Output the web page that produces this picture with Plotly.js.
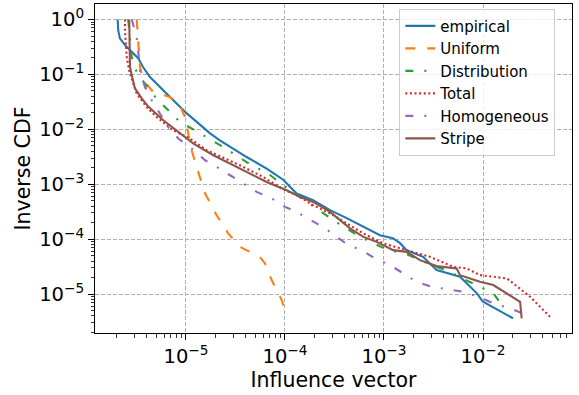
<!DOCTYPE html>
<html>
<head>
<meta charset="utf-8">
<script src="https://cdn.plot.ly/plotly-3.0.1.min.js"></script>
<style>
  html, body { margin: 0; padding: 0; background: #fff; }
  #chart { width: 579px; height: 395px; }
</style>
</head>
<body>
<div id="chart"></div>
<script>
// Inverse CDF of the influence vector: empirical curve and five models.
const empiricalX = [2.04e-6, 2.07e-6, 2.15e-6, 2.42e-6, 2.83e-6, 3.30e-6, 3.68e-6, 4.33e-6, 6.89e-6, 1.02e-5, 1.75e-5, 2.20e-5, 4.10e-5, 6.53e-5, 9.6e-5, 1.31e-4, 1.92e-4, 2.85e-4, 4.2e-4, 6.14e-4, 9.1e-4, 1.23e-3, 1.45e-3, 1.69e-3, 2.48e-3, 3.40e-3, 4.30e-3, 5.86e-3, 6.84e-3, 8.63e-3, 1.0e-2, 2.01e-2];
const empiricalY = [1.0, 0.631, 0.452, 0.341, 0.259, 0.195, 0.136, 0.0893, 0.0386, 0.0195, 8.45e-3, 6.31e-3, 3.13e-3, 1.93e-3, 1.21e-3, 6.78e-4, 5.12e-4, 3.37e-4, 2.41e-4, 1.67e-4, 1.18e-4, 1.04e-4, 8.45e-5, 6.31e-5, 4.76e-5, 2.73e-5, 2.41e-5, 2.07e-5, 1.58e-5, 1.04e-5, 7.24e-6, 3.63e-6];

const uniformX = [3.18e-6, 3.30e-6, 3.43e-6, 3.71e-6, 4.68e-6, 6.89e-6, 8.36e-6, 9.77e-6, 1.05e-5, 1.14e-5, 1.28e-5, 1.56e-5, 2.04e-5, 2.67e-5, 3.51e-5, 4.10e-5, 5.58e-5, 6.28e-5, 7.34e-5, 9.27e-5, 1.04e-4];
const uniformY = [1.0, 0.415, 0.136, 0.0778, 0.0476, 0.0386, 0.0313, 0.0167, 8.45e-3, 4.15e-3, 2.07e-3, 6.78e-4, 2.73e-4, 1.27e-4, 7.24e-5, 6.31e-5, 4.76e-5, 3.61e-5, 1.80e-5, 7.78e-6, 3.87e-6];

const distributionX = [2.61e-6, 2.72e-6, 2.83e-6, 3.18e-6, 3.85e-6, 5.06e-6, 6.62e-6, 8.69e-6, 1.23e-5, 2.38e-5, 4.61e-5, 6.78e-5, 8.89e-5, 1.26e-4, 3.08e-4, 5.73e-4, 1.10e-3, 1.63e-3, 3.03e-3, 4.65e-3, 6.10e-3, 8.63e-3, 1.27e-2, 1.67e-2];
const distributionY = [1.0, 0.415, 0.207, 0.110, 0.0678, 0.0361, 0.0221, 0.0136, 9.59e-3, 4.76e-3, 2.21e-3, 1.56e-3, 1.06e-3, 6.78e-4, 2.21e-4, 1.10e-4, 6.31e-5, 5.50e-5, 3.37e-5, 2.54e-5, 1.93e-5, 1.46e-5, 1.03e-5, 5.33e-6];

const totalX = [2.42e-6, 2.42e-6, 2.52e-6, 2.69e-6, 3.18e-6, 4.01e-6, 5.06e-6, 7.45e-6, 1.10e-5, 1.62e-5, 2.30e-5, 3.51e-5, 6.00e-5, 9.55e-5, 1.31e-4, 1.93e-4, 3.08e-4, 6.18e-4, 9.84e-4, 1.69e-3, 2.92e-3, 5.01e-3, 6.84e-3, 9.33e-3, 1.73e-2, 2.02e-2, 2.99e-2, 4.75e-2];
const totalY = [1.0, 0.631, 0.207, 0.109, 0.0446, 0.0254, 0.0167, 9.59e-3, 6.78e-3, 4.15e-3, 3.13e-3, 2.21e-3, 1.36e-3, 8.13e-4, 6.31e-4, 4.15e-4, 2.73e-4, 1.27e-4, 8.35e-5, 6.31e-5, 4.76e-5, 3.13e-5, 2.93e-5, 2.21e-5, 1.93e-5, 1.57e-5, 8.93e-6, 3.87e-6];

const homogeneousX = [2.83e-6, 3.18e-6, 3.30e-6, 3.43e-6, 3.85e-6, 4.51e-6, 6.62e-6, 8.36e-6, 1.10e-5, 1.56e-5, 2.04e-5, 2.78e-5, 3.94e-5, 5.18e-5, 7.34e-5, 1.0e-4, 1.31e-4, 1.86e-4, 2.54e-4, 3.33e-4, 4.36e-4, 5.96e-4, 8.11e-4, 1.15e-3, 1.57e-3, 2.14e-3, 3.03e-3, 4.47e-3, 6.32e-3, 8.97e-3, 1.27e-2, 1.87e-2, 2.76e-2];
const homogeneousY = [1.0, 0.477, 0.254, 0.118, 0.0588, 0.0337, 0.0110, 6.78e-3, 4.76e-3, 2.73e-3, 2.07e-3, 1.46e-3, 9.59e-4, 7.24e-4, 5.50e-4, 3.87e-4, 3.13e-4, 2.21e-4, 1.57e-4, 1.10e-4, 7.78e-5, 6.31e-5, 4.46e-5, 3.37e-5, 2.38e-5, 1.67e-5, 1.36e-5, 1.22e-5, 1.10e-5, 8.93e-6, 6.78e-6, 5.50e-6, 4.15e-6];

const stripeX = [2.67e-6, 2.72e-6, 2.83e-6, 3.05e-6, 3.57e-6, 4.16e-6, 5.90e-6, 9.40e-6, 1.19e-5, 1.89e-5, 3.01e-5, 4.10e-5, 6.53e-5, 1.04e-4, 1.42e-4, 1.93e-4, 2.85e-4, 4.54e-4, 6.18e-4, 8.43e-4, 1.24e-3, 1.69e-3, 2.31e-3, 3.40e-3, 5.42e-3, 5.86e-3, 9.33e-3, 1.27e-2, 2.37e-2, 2.46e-2];
const stripeY = [1.0, 0.136, 0.0971, 0.0556, 0.0366, 0.0259, 0.0146, 7.78e-3, 5.5e-3, 3.37e-3, 2.21e-3, 1.67e-3, 1.10e-3, 7.78e-4, 5.87e-4, 4.76e-4, 3.13e-4, 1.57e-4, 1.10e-4, 8.93e-5, 6.31e-5, 5.87e-5, 4.15e-5, 3.23e-5, 2.93e-5, 2.21e-5, 1.67e-5, 1.46e-5, 7.24e-6, 3.61e-6];

const seriesNames = ['empirical', 'Uniform', 'Distribution', 'Total', 'Homogeneous', 'Stripe'];

// Decade ticks and their labels
const xTickVals = [1e-5, 1e-4, 1e-3, 1e-2];
const xTickText = ['10<sup>−5</sup>', '10<sup>−4</sup>', '10<sup>−3</sup>', '10<sup>−2</sup>'];
const yTickVals = [1e-5, 1e-4, 1e-3, 1e-2, 1e-1, 1];
const yTickText = ['10<sup>−5</sup>', '10<sup>−4</sup>', '10<sup>−3</sup>', '10<sup>−2</sup>', '10<sup>−1</sup>', '10<sup>0</sup>'];

const FONT = 'DejaVu Sans, sans-serif';

function curve(name, xs, ys, color, dash) {
  return {
    type: 'scatter', mode: 'lines', name: name, x: xs, y: ys,
    line: { color: color, width: 2.1, dash: dash }
  };
}

const traces = [
  curve(seriesNames[0], empiricalX, empiricalY, '#1f77b4', 'solid'),
  curve(seriesNames[1], uniformX, uniformY, '#ff7f0e', '10px,12px'),
  curve(seriesNames[2], distributionX, distributionY, '#2ca02c', '8px,11px,2px,11px'),
  curve(seriesNames[3], totalX, totalY, '#d62728', '2px,2.6px'),
  curve(seriesNames[4], homogeneousX, homogeneousY, '#9467bd', '8px,11px,2px,11px'),
  curve(seriesNames[5], stripeX, stripeY, '#8c564b', 'solid')
];

const axisCommon = {
  type: 'log',
  tickmode: 'array',
  showline: true, mirror: true, linecolor: '#000', linewidth: 1,
  ticks: 'outside', ticklen: 6, tickwidth: 1, tickcolor: '#000',
  showgrid: true, gridcolor: '#b0b0b0', gridwidth: 1, griddash: '4px,2px',
  zeroline: false,
  tickfont: { family: FONT, size: 19.5, color: '#000' },
  minor: { ticks: 'outside', ticklen: 3.5, tickwidth: 0.8, tickcolor: '#000', dtick: 'D1', showgrid: false }
};

const layout = {
  width: 579, height: 395,
  margin: { l: 95, r: 7, t: 4, b: 62 },
  paper_bgcolor: '#fff', plot_bgcolor: '#fff',
  font: { family: FONT, color: '#000' },
  showlegend: true,
  xaxis: Object.assign({}, axisCommon, {
    range: [-5.919, -1.101],
    tickvals: xTickVals, ticktext: xTickText,
    title: { text: 'Influence vector', font: { family: FONT, size: 20.5, color: '#000' }, standoff: 0 }
  }),
  yaxis: Object.assign({}, axisCommon, {
    range: [-5.709, 0.282],
    tickvals: yTickVals, ticktext: yTickText,
    title: { text: 'Inverse CDF', font: { family: FONT, size: 20.5, color: '#000' }, standoff: 2 }
  }),
  legend: {
    x: 0.638, y: 0.986, xanchor: 'left', yanchor: 'top',
    bgcolor: 'rgba(255,255,255,0.8)', bordercolor: '#cccccc', borderwidth: 1,
    font: { family: FONT, size: 15, color: '#000' },
    tracegroupgap: 0
  }
};

Plotly.newPlot('chart', traces, layout, { staticPlot: true, displayModeBar: false });
</script>
</body>
</html>
